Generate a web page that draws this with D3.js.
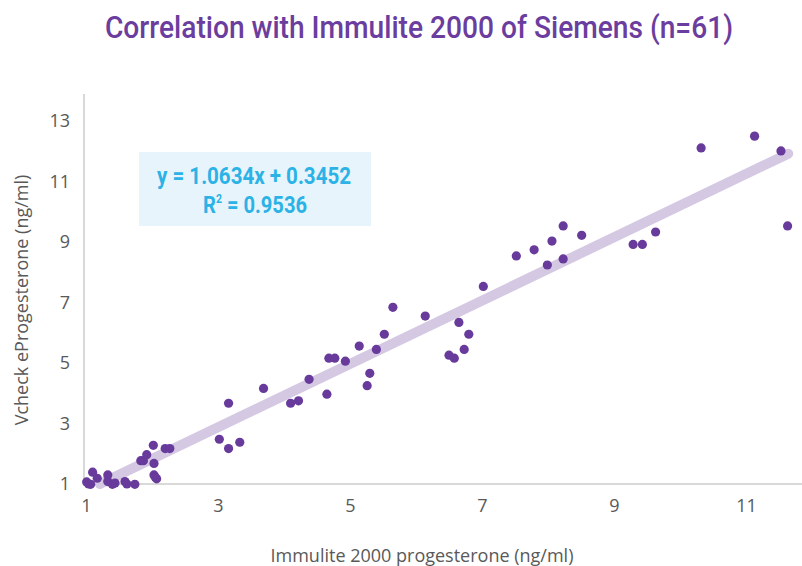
<!DOCTYPE html>
<html><head><meta charset="utf-8">
<script src="https://cdn.jsdelivr.net/npm/d3@7"></script>
<style>body{margin:0;background:#fff}svg{display:block}</style>
</head><body><svg id="c" width="802" height="566"></svg>
<script>
const immulite = [1.01,1.07,1.10,1.17,1.33,1.33,1.40,1.59,1.62,1.74,1.83,1.87,1.92,2.02,2.03,2.03,2.07,2.20,2.27,
  3.02,3.16,3.33,3.16,3.69,4.10,4.22,4.38,4.65,
  4.68,4.77,4.93,5.14,5.26,5.30,5.40,5.52,5.65,6.14,6.50,6.58,6.65,6.73,6.80,7.02,
  7.52,7.79,7.99,8.06,8.23,8.23,8.51,9.29,9.43,9.63,10.32,11.13,11.53,11.63,
  1.04,1.44,2.05];
const vcheck = [1.07,0.99,1.39,1.19,1.30,1.08,0.99,1.08,1.00,0.99,1.77,1.77,1.97,2.28,1.68,1.30,1.17,2.17,2.17,
  2.48,2.17,2.38,3.67,4.16,3.67,3.75,4.46,3.97,
  5.16,5.16,5.06,5.56,4.25,4.66,5.45,5.95,6.84,6.55,5.26,5.16,6.34,5.45,5.95,7.53,
  8.54,8.74,8.24,9.03,9.53,8.44,9.22,8.92,8.92,9.33,12.11,12.50,12.01,9.53,
  1.00,1.03,1.22];
const trendX = [1.21, 11.64];
const trendY = [1.00, 11.92];
const xTicks = [1,3,5,7,9,11];
const yTicks = [1,3,5,7,9,11,13];
const title = "Correlation with Immulite 2000 of Siemens (n=61)";
const xLabel = "Immulite 2000 progesterone (ng/ml)";
const yLabel = "Vcheck eProgesterone (ng/ml)";
const eqLines = ["y = 1.0634x + 0.3452", "R", "2", " = 0.9536"];

const svg = d3.select("#c");
const x = d3.scaleLinear().domain([1, 11.85]).range([86, 86+10.85*66]);
const y = d3.scaleLinear().domain([1, 13.88]).range([484, 484-12.88*30.25]);

const font = "'Open Sans', 'Noto Sans', sans-serif";
const gray = "#595959";

const gx = svg.append("g").attr("transform","translate(0,484)")
  .call(d3.axisBottom(x).tickValues(xTicks).tickSize(0).tickPadding(15).tickFormat(d3.format("d")));
gx.select(".domain").attr("stroke","#d9d9d9").attr("stroke-width",2).attr("d","M83,0H802");
gx.selectAll("text").attr("fill",gray).style("font-family",font).style("font-size","18px");

const gy = svg.append("g").attr("transform","translate(84,0)")
  .call(d3.axisLeft(y).tickValues(yTicks).tickSize(0).tickPadding(14).tickFormat(d3.format("d")));
gy.select(".domain").attr("stroke","#d9d9d9").attr("stroke-width",2).attr("d","M0,485V94");
gy.selectAll("text").attr("fill",gray).style("font-family",font).style("font-size","18px");

// trendline
svg.append("line")
  .attr("x1", x(trendX[0])).attr("y1", y(trendY[0]))
  .attr("x2", x(trendX[1])).attr("y2", y(trendY[1]))
  .attr("stroke","#d4c8e3").attr("stroke-width",10).attr("stroke-linecap","round");

// points
svg.append("g").selectAll("circle").data(immulite.map((v,i)=>[v,vcheck[i]])).join("circle")
  .attr("cx", d=>x(d[0])).attr("cy", d=>y(d[1])).attr("r",4.6).attr("fill","#673a9b");

// equation box
svg.append("rect").attr("x",139).attr("y",152).attr("width",232).attr("height",74).attr("fill","#e8f4fb");
const eq = svg.append("g").style("font-family","'Roboto', sans-serif").style("font-weight","700").attr("fill","#2bb2e6");
eq.append("text").attr("x",254).attr("y",184).attr("text-anchor","middle").style("font-size","23px")
  .attr("textLength",194).attr("lengthAdjust","spacingAndGlyphs").text(eqLines[0]);
const t2 = eq.append("text").attr("x",203).attr("y",213).style("font-size","23px")
  .attr("textLength",104).attr("lengthAdjust","spacingAndGlyphs");
t2.append("tspan").text(eqLines[1]);
t2.append("tspan").attr("dy",-10).style("font-size","12px").text(eqLines[2]);
t2.append("tspan").attr("dy",10).text(eqLines[3]);

// title
svg.append("text").attr("x",419).attr("y",38).attr("text-anchor","middle")
  .style("font-family","'Roboto', sans-serif").style("font-weight","500").style("font-size","32px")
  .attr("fill","#6a3d9e").attr("textLength",628).attr("lengthAdjust","spacingAndGlyphs").text(title);

// axis titles
svg.append("text").attr("x",422).attr("y",562).attr("text-anchor","middle")
  .style("font-family",font).style("font-size","18px").attr("fill",gray).text(xLabel);
svg.append("text").attr("transform","translate(28,300) rotate(-90)").attr("text-anchor","middle")
  .style("font-family",font).style("font-size","18px").attr("fill",gray).text(yLabel);
</script></body></html>
